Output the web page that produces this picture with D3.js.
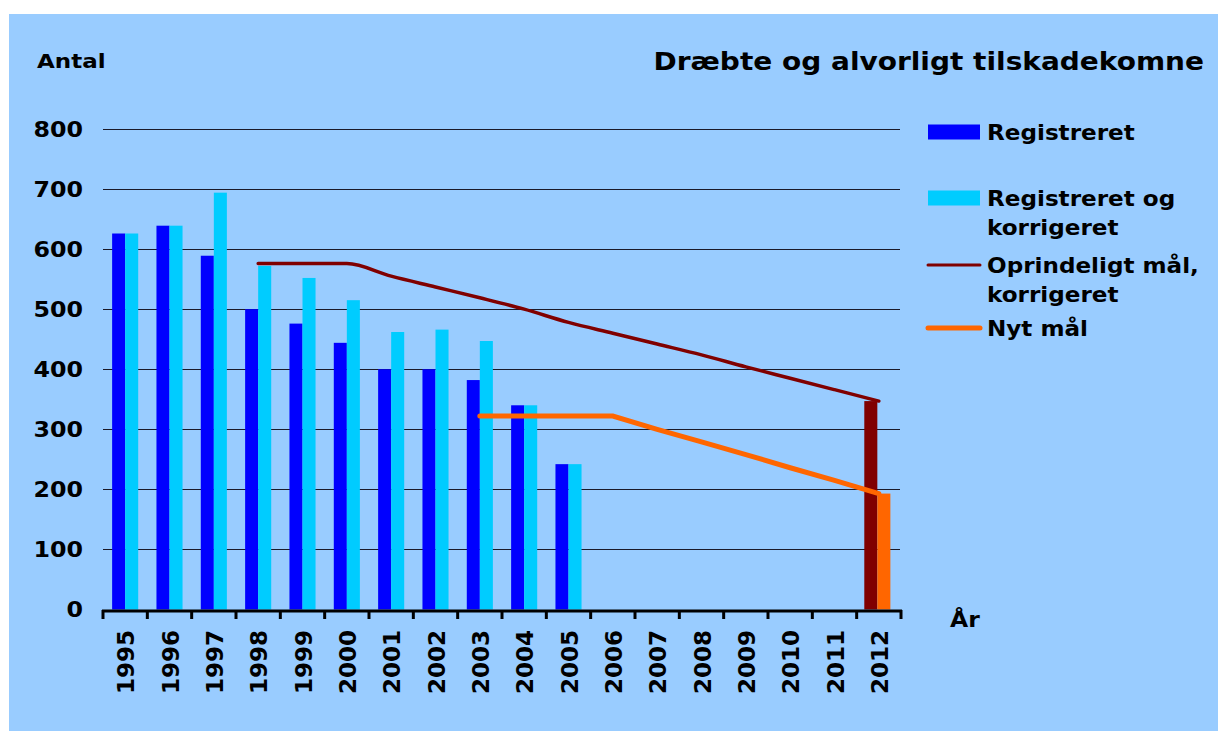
<!DOCTYPE html>
<html>
<head>
<meta charset="utf-8">
<script src="https://cdn.jsdelivr.net/npm/d3@7"></script>
<style>
  body { margin: 0; background: #fff; }
  svg text { font-family: "DejaVu Sans", Verdana, sans-serif; font-weight: bold; fill: #000; }
</style>
</head>
<body>
<div class="chart"></div>
<script>
// years on the x axis
var years = ["1995","1996","1997","1998","1999","2000","2001","2002","2003","2004","2005","2006","2007","2008","2009","2010","2011","2012"];

// Registreret (dark blue bars)
var registreret = [626, 639, 589, 500, 476, 444, 400, 400, 382, 340, 242];
// Registreret og korrigeret (light blue bars)
var korrigeret = [626, 639, 694, 572, 552, 515, 462, 466, 447, 340, 242];

// Oprindeligt mål, korrigeret (line, from 1998)
var oprYears = ["1998","1999","2000","2001","2002","2003","2004","2005","2006","2007","2008","2009","2010","2011","2012"];
var oprValues = [576, 576, 576, 555, 537, 519, 500, 478, 460, 442, 424, 404, 385, 366, 347];

// Nyt mål (line, from 2003)
var nytYears = ["2003","2004","2005","2006","2007","2008","2009","2010","2011","2012"];
var nytValues = [322, 322, 322, 322, 300, 279, 258, 236, 215, 193];

// target bars in 2012
var target2012 = [347, 193];

var yTicks = [0, 100, 200, 300, 400, 500, 600, 700, 800];

var W = 1218, H = 731;

var svg = d3.select(".chart")
  .append("svg")
  .attr("width", W)
  .attr("height", H);

svg.append("rect")
  .attr("x", 9).attr("y", 14)
  .attr("width", W - 9).attr("height", H - 14)
  .attr("fill", "#99ccff");

// text in the original is a bit wider than DejaVu, so stretch it sideways
function label(g, px, py, sx, size, anchor, txt) {
  return g.append("text")
    .attr("transform", "translate(" + px + "," + py + ") scale(" + sx + ",1)")
    .attr("text-anchor", anchor || "start")
    .style("font-size", size + "px")
    .text(txt);
}

var x = d3.scaleBand()
  .domain(years)
  .range([103, 901])
  .padding(0);

var sub = d3.scaleBand()
  .domain([0, 1])
  .range([0, x.bandwidth()])
  .paddingInner(0)
  .paddingOuter(0.7);

var y = d3.scaleLinear()
  .domain([0, 800])
  .range([609.5, 129]);

// gridlines
svg.append("g")
  .selectAll("line")
  .data(yTicks.slice(1))
  .enter().append("line")
  .attr("x1", 103).attr("x2", 900)
  .attr("y1", d => Math.round(y(d)) + 0.5)
  .attr("y2", d => Math.round(y(d)) + 0.5)
  .attr("stroke", "#1a1a2a")
  .attr("stroke-width", 1.2);

// y labels
var yLab = svg.append("g");
yTicks.forEach(function(d) {
  label(yLab, 83, y(d) + 7.5, 1.13, 21, "end", d);
});

// bars
var bars = svg.append("g");
bars.selectAll("rect.reg")
  .data(registreret)
  .enter().append("rect")
  .attr("class", "reg")
  .attr("x", (d, i) => x(years[i]) + sub(0))
  .attr("width", sub.bandwidth())
  .attr("y", d => y(d))
  .attr("height", d => y(0) - y(d))
  .attr("fill", "#0000ff");

bars.selectAll("rect.kor")
  .data(korrigeret)
  .enter().append("rect")
  .attr("class", "kor")
  .attr("x", (d, i) => x(years[i]) + sub(1))
  .attr("width", sub.bandwidth())
  .attr("y", d => y(d))
  .attr("height", d => y(0) - y(d))
  .attr("fill", "#00ccff");

var targetColors = ["#800000", "#ff6600"];
bars.selectAll("rect.tgt")
  .data(target2012)
  .enter().append("rect")
  .attr("class", "tgt")
  .attr("x", (d, i) => x("2012") + sub(i) - 1.5)
  .attr("width", sub.bandwidth())
  .attr("y", d => y(d))
  .attr("height", d => y(0) - y(d))
  .attr("fill", (d, i) => targetColors[i]);

// lines
var cx = d => x(d) + x.bandwidth() / 2;

var oprLine = d3.line()
  .x((d, i) => cx(oprYears[i]))
  .y(d => y(d))
  .curve(d3.curveMonotoneX);

svg.append("path")
  .datum(oprValues)
  .attr("d", oprLine)
  .attr("fill", "none")
  .attr("stroke", "#800000")
  .attr("stroke-width", 3.5)
  .attr("stroke-linecap", "round");

var nytLine = d3.line()
  .x((d, i) => cx(nytYears[i]))
  .y(d => y(d));

svg.append("path")
  .datum(nytValues)
  .attr("d", nytLine)
  .attr("fill", "none")
  .attr("stroke", "#ff6600")
  .attr("stroke-width", 5)
  .attr("stroke-linecap", "round");

// x axis
var xAxis = svg.append("g");
xAxis.append("line")
  .attr("x1", 102).attr("x2", 902)
  .attr("y1", 611).attr("y2", 611)
  .attr("stroke", "#000")
  .attr("stroke-width", 3);

xAxis.selectAll("line.tick")
  .data(years.concat(["end"]))
  .enter().append("line")
  .attr("class", "tick")
  .attr("x1", (d, i) => i < years.length ? x(d) : x.range()[1])
  .attr("x2", (d, i) => i < years.length ? x(d) : x.range()[1])
  .attr("y1", 610).attr("y2", 619)
  .attr("stroke", "#000")
  .attr("stroke-width", 3);

xAxis.selectAll("text")
  .data(years)
  .enter().append("text")
  .attr("transform", d => "translate(" + (cx(d) + 9) + ",630) rotate(-90)")
  .attr("text-anchor", "end")
  .style("font-size", "23px")
  .text(d => d);

// labels
label(svg, 37, 68, 1.15, 20, "start", "Antal");
label(svg, 1204, 70, 1.12, 25, "end", "Dræbte og alvorligt tilskadekomne");
label(svg, 950, 627, 1.12, 21, "start", "År");

// legend
var legendItems = [
  { label: ["Registreret"], color: "#0000ff", type: "bar", y: 132 },
  { label: ["Registreret og", "korrigeret"], color: "#00ccff", type: "bar", y: 198 },
  { label: ["Oprindeligt mål,", "korrigeret"], color: "#800000", type: "line", y: 265, w: 3 },
  { label: ["Nyt mål"], color: "#ff6600", type: "line", y: 328, w: 5 }
];

var legend = svg.append("g");
legendItems.forEach(function(it) {
  if (it.type === "bar") {
    legend.append("rect")
      .attr("x", 928).attr("y", it.y - 7.5)
      .attr("width", 52).attr("height", 15)
      .attr("fill", it.color);
  } else {
    legend.append("line")
      .attr("x1", 928).attr("x2", 980)
      .attr("y1", it.y).attr("y2", it.y)
      .attr("stroke", it.color)
      .attr("stroke-width", it.w)
      .attr("stroke-linecap", "round");
  }
  it.label.forEach(function(s, j) {
    label(legend, 987, it.y + 7.5 + j * 29, 1.1, 21, "start", s);
  });
});
</script>
</body>
</html>
